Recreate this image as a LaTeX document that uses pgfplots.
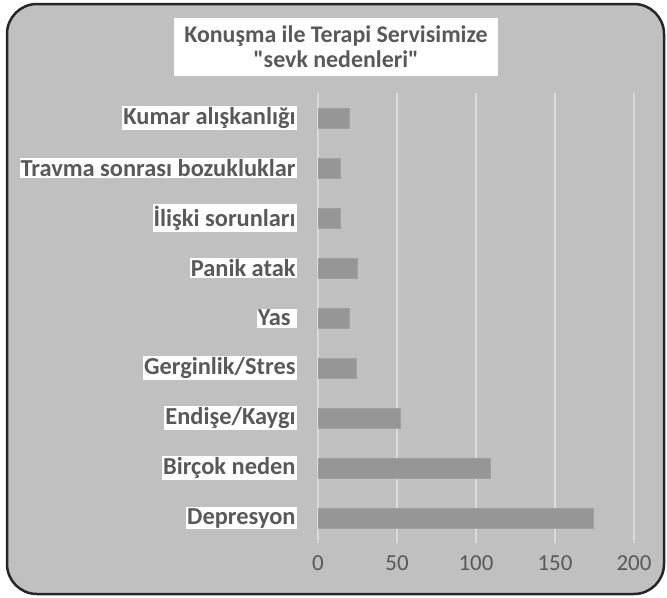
\documentclass[border=0pt]{standalone}
\usepackage{fontspec}
\setmainfont{Carlito}[Ligatures=TeXOff]
\usepackage{pgfplots}
\pgfplotsset{compat=1.18}
\definecolor{bgc}{HTML}{C0C0C0}
\definecolor{barc}{HTML}{969696}
\definecolor{gridc}{HTML}{DADADA}
\definecolor{txt}{HTML}{595959}
\begin{document}
\begin{tikzpicture}
\useasboundingbox (0,0) rectangle (667bp,-598bp);
\draw[line width=2.5bp,draw=black!85,fill=bgc,rounded corners=30bp] (7bp,-4bp) rectangle (664bp,-594bp);
\node[fill=white,inner sep=0pt,minimum width=324bp,minimum height=58bp,align=center,
  font=\fontsize{24}{25}\selectfont\bfseries,text=txt] at (336bp,-47bp)
  {Konuşma ile Terapi Servisimize\\"sevk nedenleri"};
\begin{axis}[at={(318bp,-543bp)},anchor=south west,scale only axis,
  width=316bp,height=450bp,
  xbar,bar width=20bp,
  xmin=0,xmax=200,ymin=-0.5,ymax=8.5,
  xtick={0,50,100,150,200},ytick={0,...,8},
  yticklabels={Depresyon,Birçok neden,Endişe/Kaygı,Gerginlik/Stres,{Yas\hspace*{5bp}},Panik atak,İlişki sorunları,Travma sonrası bozukluklar,Kumar alışkanlığı},
  axis line style={draw=none},tick style={draw=none},
  xmajorgrids,grid style={gridc,line width=1.5bp},
  /pgf/number format/assume math mode=true,
  xticklabel style={font=\fontsize{23}{26}\selectfont,text=txt,yshift=-9bp},
  yticklabel style={font=\fontsize{24.5}{26}\selectfont\bfseries,text=txt,fill=white,
    inner xsep=1bp,inner ysep=1.5bp,xshift=-17bp},
]
\addplot[fill=barc,draw=barc!90!white] coordinates {
 (174,0) (109,1) (52,2) (24,3) (20,4) (25,5) (14,6) (14,7) (20,8)};
\end{axis}
\end{tikzpicture}
\end{document}
